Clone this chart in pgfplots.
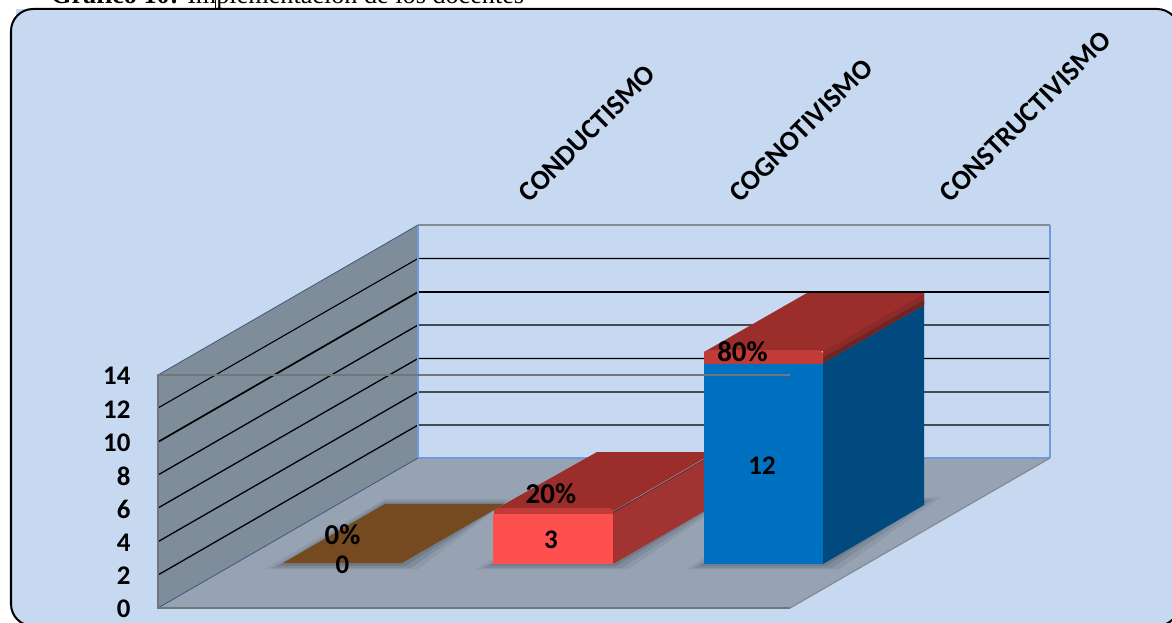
\documentclass[border=0pt]{standalone}
\usepackage{pgfplots}
\pgfplotsset{compat=1.18}
\usepackage{fontspec}
\setmainfont{Carlito}
\newfontfamily\timesf{Liberation Serif}
\definecolor{bgblue}{HTML}{C6D9F1}
\definecolor{wallc}{HTML}{7F8C99}
\definecolor{floorc}{HTML}{97A3B3}
\definecolor{brownc}{HTML}{764A20}
\definecolor{topred}{HTML}{9B2D2B}
\definecolor{bevelred}{HTML}{C13B39}
\definecolor{midred}{HTML}{8C2A29}
\definecolor{darkred}{HTML}{6F2525}
\definecolor{sidered}{HTML}{A23333}
\definecolor{frontred}{HTML}{FF5050}
\definecolor{frontblue}{HTML}{0070C0}
\definecolor{sideblue}{HTML}{004A7F}
\definecolor{edgeblue}{HTML}{6F9BDC}
\definecolor{edgegrey}{HTML}{868C94}
\definecolor{frontgrey}{HTML}{71767D}
\definecolor{shade}{HTML}{4A5260}
\newcommand{\lblfont}{\bfseries\fontsize{27}{27}\selectfont}
\newcommand{\catfont}{\bfseries\fontsize{28}{28}\selectfont}
\newcommand{\pctfont}{\bfseries\fontsize{29}{29}\selectfont}
\begin{document}
\begin{tikzpicture}
\clip[use as bounding box] (0,0) rectangle (1172bp,623bp);
% ---------- background, walls, floor, sides and tops (pixel coordinates)
\begin{axis}[at={(0,0)},anchor=south west,scale only axis,width=1172bp,height=623bp,
  xmin=0,xmax=1172,ymin=0,ymax=623,y dir=reverse,axis lines=none]
\addplot[fill=bgblue,draw=none] coordinates {(16,9)(40,9)(40,40)(16,40)} -- cycle;
\addplot[fill=bgblue,draw=black,line width=2bp,rounded corners=22bp] coordinates {(11,9)(1179,9)(1179,626)(11,626)} -- cycle;
\addplot[black,line width=1bp] coordinates {(215,0)(215,9)};
% back wall, left wall, floor
\addplot[fill=wallc,draw=none] coordinates {(158,375)(418,225)(418,458)(158,608)} -- cycle;
\addplot[fill=floorc,draw=none] coordinates {(158,608)(418,458)(1050,458)(790,608)} -- cycle;
% grid on the walls
\addplot[black,line width=1.3bp] coordinates {(158,575)(418,425)(1050,425)};
\addplot[black,line width=1.3bp] coordinates {(158,541.7)(418,392)(1050,392)};
\addplot[black,line width=1.3bp] coordinates {(158,508)(418,358.5)(1050,358.5)};
\addplot[black,line width=1.3bp] coordinates {(158,475)(418,325)(1050,325)};
\addplot[black,line width=1.7bp] coordinates {(158,442)(418,292)(1050,292)};
\addplot[black,line width=1.1bp] coordinates {(158,408)(418,258.5)(1050,258.5)};
\addplot[edgegrey,line width=1.3bp] coordinates {(418,225)(1050,225)};
\addplot[edgeblue,line width=1.5bp] coordinates {(418,225)(418,458)(1050,458)};
\addplot[edgeblue,line width=2bp] coordinates {(1050,225)(1050,458)};
\addplot[black!20!edgeblue!70!black,line width=.8bp] coordinates {(158,375)(418,225)};
\addplot[black!20!edgeblue!70!black,line width=.8bp] coordinates {(158,608)(418,458)};
\addplot[edgegrey,line width=1.3bp] coordinates {(1050,458)(790,608)};
% soft shadows on the floor
\addplot[fill=shade,draw=none,fill opacity=.12] coordinates {(265,569)(385,499)(510,499)(418,569)} -- cycle;
\addplot[fill=shade,draw=none,fill opacity=.18] coordinates {(272,568)(385,501)(507,501)(411,568)} -- cycle;
\addplot[fill=shade,draw=none,fill opacity=.25] coordinates {(278,566)(385,503)(505,503)(405,566)} -- cycle;
\addplot[fill=shade,draw=none,fill opacity=.12] coordinates {(476,569)(596,499)(731,499)(629,569)} -- cycle;
\addplot[fill=shade,draw=none,fill opacity=.18] coordinates {(483,568)(596,501)(725,501)(622,568)} -- cycle;
\addplot[fill=shade,draw=none,fill opacity=.25] coordinates {(489,566)(596,503)(719,503)(616,566)} -- cycle;
\addplot[fill=shade,draw=none,fill opacity=.12] coordinates {(686,569)(806,497)(941,497)(840,569)} -- cycle;
\addplot[fill=shade,draw=none,fill opacity=.18] coordinates {(693,568)(806,499)(934,499)(832,568)} -- cycle;
\addplot[fill=shade,draw=none,fill opacity=.25] coordinates {(699,566)(806,501)(928,501)(826,566)} -- cycle;
% bar with value 0
\addplot[fill=brownc,draw=none] coordinates {(283,563)(385,504)(504,504)(402,563)} -- cycle;
% red bar: top and side
\addplot[fill=sidered,draw=none] coordinates {(613,513)(715,454)(715,505)(613,564)} -- cycle;
\addplot[fill=topred,draw=none] coordinates {(494,510)(597,452)(715,452)(613,511)} -- cycle;
\addplot[fill=bevelred,draw=none] coordinates {(494,515)(494,510)(498,508)(609,508)(613,510)(613,515)} -- cycle;
\addplot[darkred,line width=1bp] coordinates {(613,512.5)(715,453.5)};
% blue bar: side and top
\addplot[fill=sideblue,draw=none] coordinates {(823,363)(924,305)(924,505)(823,564)} -- cycle;
\addplot[fill=topred,draw=none] coordinates {(704,352)(807,293)(924,293)(924,305)(823,363)(823,351)} -- cycle;
\addplot[fill=midred,draw=none] coordinates {(823,352)(924,294)(924,305)(823,363)} -- cycle;
\addplot[fill=darkred,draw=none] coordinates {(823,358)(924,300)(924,305)(823,363)} -- cycle;
\addplot[fill=bevelred,draw=none] coordinates {(704,365)(704,352)(708,350)(820,350)(823,353)(823,365)} -- cycle;
\end{axis}
% ---------- the data: front faces of the bars
\begin{axis}[at={(158bp,59bp)},anchor=south west,scale only axis,width=632bp,height=233.8bp,
  ybar,bar width=119.5bp,clip=false,
  xmin=-0.8765,xmax=2.126,ymin=0,ymax=14,
  axis line style={draw=none},tick style={draw=none},ytick=\empty,
  xtick={0,1,2},xticklabels={CONDUCTISMO,COGNOTIVISMO,CONSTRUCTIVISMO},
  xticklabel pos=upper,
  x tick label style={rotate=45,anchor=west,font=\catfont,xshift=215.5bp,yshift=-37bp}]
\addplot[fill=brownc,draw=none,bar shift=0pt] coordinates {(0,0)};
\addplot[fill=frontred,draw=none,bar shift=0pt] coordinates {(1,3)};
\addplot[fill=frontblue,draw=none,bar shift=0pt] coordinates {(2,12)};
\node[font=\pctfont] at (axis cs:0,1.74) {0\%};
\node[font=\lblfont] at (axis cs:0,-0.05) {0};
\node[font=\pctfont] at (axis cs:0.99,4.19) {20\%};
\node[font=\lblfont] at (axis cs:0.99,1.44) {3};
\node[font=\pctfont] at (axis cs:1.9,12.7) {80\%};
\node[font=\lblfont] at (axis cs:1.993,5.9) {12};
\end{axis}
% ---------- the value scale on the front plane
\begin{axis}[at={(158bp,15bp)},anchor=south west,scale only axis,width=632bp,height=233bp,
  xmin=0,xmax=1,ymin=0,ymax=14,clip=false,
  axis line style={draw=none},tick style={draw=none},xtick=\empty,
  ytick={0,2,...,14},
  /pgf/number format/assume math mode=true,
  y tick label style={font=\lblfont,anchor=east,xshift=-24bp,yshift=-1bp}]
\addplot[frontgrey,line width=1.3bp] coordinates {(1,14)(0,14)(0,0)(1,0)};
\end{axis}
% ---------- caption cut by the top edge
\node[anchor=base west,inner sep=0pt,font=\timesf\fontsize{26.3}{26.3}\selectfont] at (51bp,619.5bp) {\textbf{Gráfico 10:} Implementación de los docentes};
\end{tikzpicture}
\end{document}
